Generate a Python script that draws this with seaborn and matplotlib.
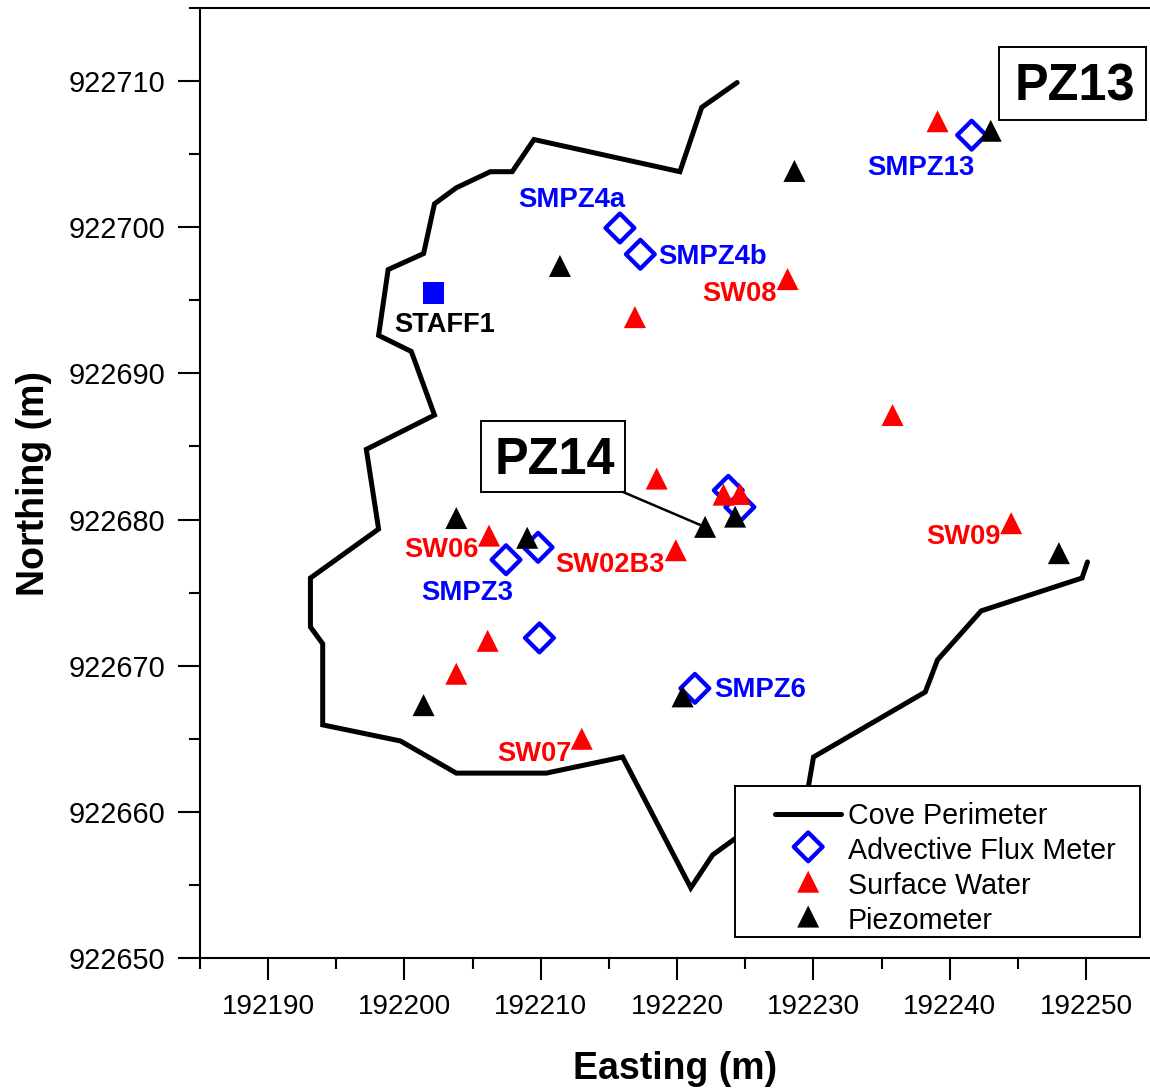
import seaborn as sns
import matplotlib.pyplot as plt
from matplotlib.patches import Rectangle
from matplotlib.lines import Line2D
from matplotlib.ticker import MultipleLocator

W, H = 1150, 1089

# Cove perimeter
perim_x = [192224.4, 192221.8, 192220.2, 192209.5, 192207.9, 192206.3, 192203.8, 192202.2,
           192201.4, 192198.8, 192198.1, 192200.5, 192202.2, 192197.2, 192198.1, 192193.1,
           192193.1, 192194.0, 192194.0, 192199.7, 192203.8, 192210.4, 192216.0, 192221.0,
           192222.6, 192224.3, 192229.4, 192230.0, 192238.2, 192239.1, 192242.3, 192249.7,
           192250.1]
perim_y = [922709.9, 922708.2, 922703.8, 922706.0, 922703.8, 922703.8, 922702.7, 922701.6,
           922698.2, 922697.1, 922692.6, 922691.5, 922687.15, 922684.8, 922679.35, 922676.0,
           922672.65, 922671.5, 922665.95, 922664.85, 922662.65, 922662.65, 922663.75, 922654.8,
           922657.05, 922658.2, 922660.5, 922663.75, 922668.2, 922670.4, 922673.75, 922676.0,
           922677.1]

# Advective flux meters
flux_x = [192241.6, 192215.8, 192217.3, 192223.75, 192224.6, 192207.45, 192209.8, 192209.9, 192221.3]
flux_y = [922706.3, 922699.95, 922698.15, 922682.0, 922680.85, 922677.25, 922678.1, 922671.9, 922668.45]

# Surface water
sw_x = [192239.1, 192228.1, 192216.9, 192235.8, 192218.5, 192223.4, 192224.6,
        192244.5, 192206.2, 192219.9, 192206.1, 192203.8, 192213.0]
sw_y = [922707.25, 922696.45, 922693.85, 922687.15, 922682.8, 922681.7, 922681.75,
        922679.75, 922678.9, 922677.9, 922671.7, 922669.45, 922665.0]

# Piezometers
pz_x = [192243.0, 192228.6, 192211.4, 192203.8, 192209.0, 192222.05, 192224.25, 192248.0, 192201.4, 192220.4]
pz_y = [922706.6, 922703.85, 922697.35, 922680.1, 922678.75, 922679.5, 922680.2, 922677.7, 922667.3, 922667.9]

staff_x = [192202.1]
staff_y = [922695.5]

x_ticks = [192190, 192200, 192210, 192220, 192230, 192240, 192250]
y_ticks = [922650, 922660, 922670, 922680, 922690, 922700, 922710]

sns.set_style("ticks")
plt.rcParams['font.family'] = ['Liberation Sans', 'DejaVu Sans']
plt.rcParams['text.color'] = 'black'
plt.rcParams['axes.labelcolor'] = 'black'
plt.rcParams['xtick.color'] = 'black'
plt.rcParams['ytick.color'] = 'black'
plt.rcParams['axes.edgecolor'] = 'black'

fig = plt.figure(figsize=(W / 100, H / 100), dpi=100)
ax = fig.add_axes([200 / W, 1 - 958 / H, 950 / W, 950 / H])


def fx(px):
    return px / W


def fy(py):
    return 1 - py / H


# estimator=None keeps the path as is, x repeats along the perimeter
sns.lineplot(x=perim_x, y=perim_y, sort=False, estimator=None, color="black", linewidth=3.6,
             label="Cove Perimeter", solid_joinstyle="miter", solid_capstyle="round", ax=ax, zorder=2)
sns.scatterplot(x=flux_x, y=flux_y, marker="D", s=215, facecolors="none", edgecolor="blue", linewidth=3.1,
                label="Advective Flux Meter", ax=ax, zorder=3)
sns.scatterplot(x=sw_x, y=sw_y, marker="^", s=251, color="red", edgecolor="none",
                label="Surface Water", ax=ax, zorder=4)
sns.scatterplot(x=pz_x, y=pz_y, marker="^", s=251, color="black", edgecolor="none",
                label="Piezometer", ax=ax, zorder=5)
sns.scatterplot(x=staff_x, y=staff_y, marker="s", s=230, color="blue", edgecolor="none", ax=ax, zorder=4)

ax.set_xlim(192185, 192185 + 950 / 13.633)
ax.set_ylim(922650, 922715)
ax.set_xticks(x_ticks)
ax.set_yticks(y_ticks)
ax.xaxis.set_minor_locator(MultipleLocator(5))
ax.yaxis.set_minor_locator(MultipleLocator(5))
ax.ticklabel_format(useOffset=False, style="plain")
ax.tick_params(which="major", length=16, width=1.5, pad=9)
ax.tick_params(which="minor", length=8, width=1.5)
ax.tick_params(axis="x", which="major", labelsize=20.1, pad=10)
ax.tick_params(axis="y", which="major", labelsize=20.8)
ax.spines["right"].set_visible(False)
for s in ["left", "bottom", "top"]:
    ax.spines[s].set_linewidth(1.5)
ax.set_xlabel("Easting (m)", fontsize=27, fontweight="bold", labelpad=22)
ax.set_ylabel("Northing (m)", fontsize=27, fontweight="bold", labelpad=12)

# Point labels
blue_lab = [("SMPZ13", 921, 168), ("SMPZ4a", 572, 200), ("SMPZ4b", 713, 257), ("SMPZ3", 467, 593), ("SMPZ6", 760, 690)]
red_lab = [("SW08", 740, 294), ("SW06", 441, 550), ("SW02B3", 610, 565), ("SW09", 963, 537), ("SW07", 534, 754)]
for t, px, py in blue_lab:
    fig.text(fx(px), fy(py), t, color="blue", fontsize=19.8, fontweight="bold", ha="center", va="center")
for t, px, py in red_lab:
    fig.text(fx(px), fy(py), t, color="red", fontsize=19.6, fontweight="bold", ha="center", va="center")
fig.text(fx(445), fy(325), "STAFF1", color="black", fontsize=19.6, fontweight="bold", ha="center", va="center")

# PZ boxes
for t, x0, y0, x1, y1 in [("PZ13", 999, 47, 1146, 120), ("PZ14", 481, 421, 625, 492)]:
    fig.add_artist(Rectangle((fx(x0), fy(y1)), (x1 - x0) / W, (y1 - y0) / H, transform=fig.transFigure,
                             facecolor="white", edgecolor="black", linewidth=1.4, zorder=6))
    fig.text(fx((x0 + x1) / 2 + 2), fy((y0 + y1) / 2 + 4), t, fontsize=36.4, fontweight="bold",
             ha="center", va="center", zorder=7)
fig.add_artist(Line2D([fx(623), fx(705)], [fy(492), fy(527)], color="black", linewidth=1.8, zorder=6))

# Legend box, opaque over the perimeter line
fig.add_artist(Rectangle((fx(735), fy(937)), 405 / W, 151 / H, transform=fig.transFigure,
                         facecolor="white", edgecolor="black", linewidth=1.4, zorder=6))
leg = ax.legend(loc="upper left", bbox_to_anchor=(fx(775), fy(802)), bbox_transform=fig.transFigure,
                frameon=False, fontsize=20.6, handlelength=2.32, handletextpad=0.22, labelspacing=0.24,
                borderpad=0, borderaxespad=0, scatterpoints=1, scatteryoffsets=[0.6], labelcolor="black")
leg.set_zorder(7)
leg.remove()
fig.add_artist(leg)

fig.savefig("out.png", dpi=100)
